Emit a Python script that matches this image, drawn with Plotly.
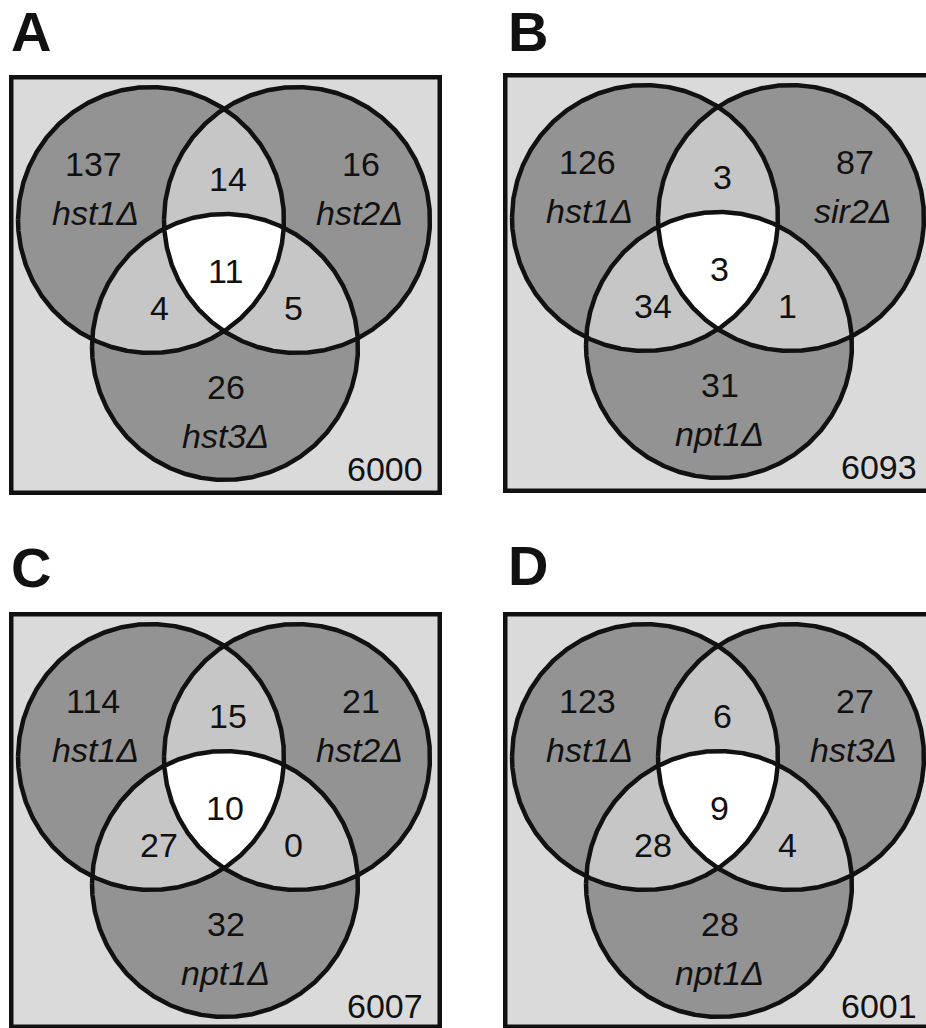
import numpy as np
import plotly.graph_objects as go

# ---------------- data ----------------
panel_letters = ["A", "B", "C", "D"]
set1_names = ["hst1Δ", "hst1Δ", "hst1Δ", "hst1Δ"]
set2_names = ["hst2Δ", "sir2Δ", "hst2Δ", "hst3Δ"]
set3_names = ["hst3Δ", "npt1Δ", "npt1Δ", "npt1Δ"]
only1 = [137, 126, 114, 123]
only2 = [16, 87, 21, 27]
only3 = [26, 31, 32, 28]
pair12 = [14, 3, 15, 6]
pair13 = [4, 34, 27, 28]
pair23 = [5, 1, 0, 4]
triple123 = [11, 3, 10, 9]
totals = [6000, 6093, 6007, 6001]

# ---------------- layout constants ----------------
W, H = 926, 1028
origins = [(9, 75), (503, 73), (9, 612), (503, 612)]   # outer top-left of each box
box_heights = [420, 420, 417, 417]
letter_dx = [2, 5, 2, 5]
letter_ys = [37, 37, 573, 571]
BOX_W = 433
centers = [(142, 145), (288, 145), (216, 272)]           # circle centres relative to box
R = 133
FONT = "Liberation Sans, Arial, Helvetica, sans-serif"
C_BG = "#dadada"
C_ONE = "#939393"
C_TWO = "#c6c6c6"
C_THREE = "#ffffff"
LW = 4.5
INK = "#111111"

fig = go.Figure()
shapes = []
annotations = []


def region(cs, r, n=1440):
    """Polygon of the intersection of the given circles (convex)."""
    pts = []
    t = np.linspace(0, 2 * np.pi, n, endpoint=False)
    for i, (cx, cy) in enumerate(cs):
        px = cx + r * np.cos(t)
        py = cy + r * np.sin(t)
        keep = np.ones_like(px, dtype=bool)
        for j, (ox, oy) in enumerate(cs):
            if j != i:
                keep &= (px - ox) ** 2 + (py - oy) ** 2 <= r * r + 1e-6
        pts.append(np.column_stack([px[keep], py[keep]]))
    pts = np.vstack(pts)
    mx, my = pts.mean(axis=0)
    order = np.argsort(np.arctan2(pts[:, 1] - my, pts[:, 0] - mx))
    pts = pts[order]
    return np.append(pts[:, 0], pts[0, 0]), np.append(pts[:, 1], pts[0, 1])


def add_text(x, y, txt, size=34, xanchor="center", italic=False):
    if italic:
        txt = "<i>" + txt + "</i>"
    annotations.append(dict(x=x, y=y, xref="x", yref="y", text=txt, showarrow=False,
                            xanchor=xanchor, yanchor="middle",
                            font=dict(family=FONT, size=size, color=INK)))


letter_x = []
for k in range(4):
    ox, oy = origins[k]
    bh = box_heights[k]
    # box
    shapes.append(dict(type="rect", xref="x", yref="y", layer="below",
                       x0=ox + LW / 2, x1=ox + BOX_W - LW / 2,
                       y0=oy + LW / 2, y1=oy + bh - LW / 2,
                       fillcolor=C_BG, line=dict(color=INK, width=LW)))
    cs = [(ox + cx, oy + cy) for cx, cy in centers]
    # single circles
    for c in cs:
        x, y = region([c], R)
        fig.add_trace(go.Scatter(x=x, y=y, mode="lines", fill="toself", fillcolor=C_ONE,
                                 line=dict(width=0, color=C_ONE), hoverinfo="skip", showlegend=False))
    # pairwise lenses
    for a, b in [(0, 1), (0, 2), (1, 2)]:
        x, y = region([cs[a], cs[b]], R)
        fig.add_trace(go.Scatter(x=x, y=y, mode="lines", fill="toself", fillcolor=C_TWO,
                                 line=dict(width=0, color=C_TWO), hoverinfo="skip", showlegend=False))
    # triple
    x, y = region(cs, R)
    fig.add_trace(go.Scatter(x=x, y=y, mode="lines", fill="toself", fillcolor=C_THREE,
                             line=dict(width=0, color=C_THREE), hoverinfo="skip", showlegend=False))
    # outlines
    for c in cs:
        x, y = region([c], R)
        fig.add_trace(go.Scatter(x=x, y=y, mode="lines", line=dict(width=LW, color=INK),
                                 hoverinfo="skip", showlegend=False))

    letter_x.append(ox + letter_dx[k])
    # texts
    add_text(ox + 84, oy + 89, str(only1[k]))
    add_text(ox + 86, oy + 138, set1_names[k], italic=True)
    add_text(ox + 352, oy + 89, str(only2[k]))
    add_text(ox + 350, oy + 138, set2_names[k], italic=True)
    add_text(ox + 219, oy + 104, str(pair12[k]))
    add_text(ox + 216, oy + 196, str(triple123[k]))
    add_text(ox + 150, oy + 233, str(pair13[k]))
    add_text(ox + 284, oy + 233, str(pair23[k]))
    add_text(ox + 217, oy + 312, str(only3[k]))
    add_text(ox + 216, oy + 361, set3_names[k], italic=True)
    add_text(ox + 416, oy + 394, str(totals[k]), xanchor="right")

# panel letters
fig.add_trace(go.Scatter(x=letter_x, y=letter_ys, mode="text", text=["<b>" + s + "</b>" for s in panel_letters],
                         textposition="middle right",
                         textfont=dict(family=FONT, size=56, color=INK),
                         hoverinfo="skip", showlegend=False, cliponaxis=False))

fig.update_layout(
    width=W, height=H, margin=dict(l=0, r=0, t=0, b=0),
    paper_bgcolor="white", plot_bgcolor="white",
    xaxis=dict(range=[0, W], visible=False, fixedrange=True),
    yaxis=dict(range=[H, 0], visible=False, fixedrange=True),
    shapes=shapes, annotations=annotations, showlegend=False,
)

fig.write_html("out.html", post_script="document.body.style.margin='0px';",
               config={"displayModeBar": False})
